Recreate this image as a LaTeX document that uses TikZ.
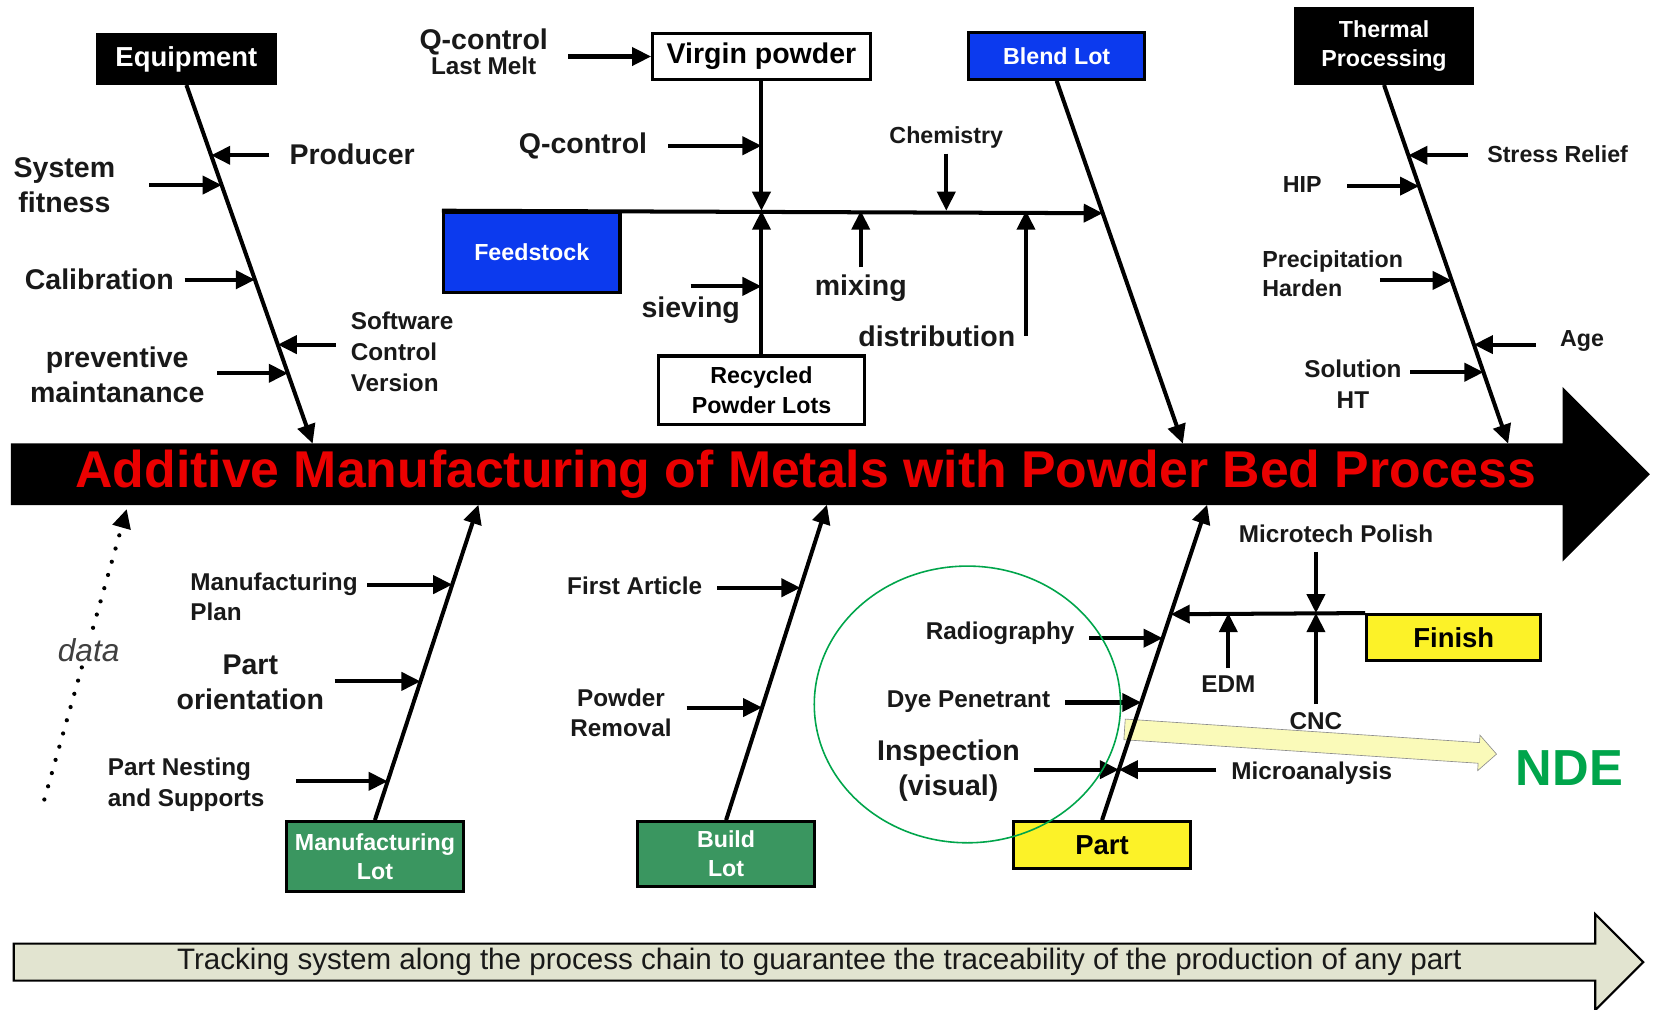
\documentclass[tikz,border=0pt]{standalone}
\usepackage{fontspec}
\setmainfont{Liberation Sans}
\usetikzlibrary{positioning,shapes.geometric,shapes.arrows,arrows.meta}
\definecolor{boxblue}{RGB}{12,58,238}
\definecolor{boxgreen}{RGB}{58,150,96}
\definecolor{boxyellow}{RGB}{252,242,40}
\definecolor{titlered}{RGB}{235,0,0}
\definecolor{ndegreen}{RGB}{0,165,75}
\definecolor{ndefill}{RGB}{250,250,185}
\definecolor{trackfill}{RGB}{226,228,208}
\newcommand{\fsz}[2]{\fontsize{#1}{#2}\selectfont}

\begin{document}
\begin{tikzpicture}[x=1pt, y=-1pt]
\tikzset{
    every node/.style = {inner sep=1pt, align=center, text=black!90},
    every path/.style = {>={Triangle[length=18pt,width=17pt]}},
    cause/.style = {line width=3.8pt, ->},
    big/.style = {font=\fsz{27}{33}\bfseries},
    mid/.style = {font=\fsz{23}{29}\bfseries},
    box/.style = {draw=black, line width=3pt, inner sep=0pt, font=\fsz{22}{28}\bfseries},
    blackbox/.style = {box, fill=black, text=white},
    bluebox/.style = {box, fill=boxblue, text=white},
    greenbox/.style = {box, fill=boxgreen, text=white},
    yellowbox/.style = {box, fill=boxyellow, text=black, font=\fsz{26}{30}\bfseries},
    whitebox/.style = {box, fill=white, text=black}
}
\path[use as bounding box, fill=white] (0,0) rectangle (1568,956);

% -------------------------------------------------------
\node[single arrow, draw=black!45, line width=0.6pt, fill=ndefill, minimum height=353pt,
      single arrow head extend=7pt, single arrow tip angle=90, inner sep=0pt,
      rotate=-3.8] (ndearrow) at (1236,702) {\rule{0pt}{19pt}};

\node[single arrow, fill=black, minimum height=1552pt, single arrow head extend=53.5pt,
      single arrow tip angle=90, inner sep=0pt, anchor=tail] (spine) at (10,449) {\rule{0pt}{58pt}};
\node[font=\fsz{49}{50}\bfseries, text=titlered] (title) at (763,449)
    {Additive Manufacturing of Metals with Powder Bed Process};

\coordinate (eqtip) at (296,420);
\coordinate (bltip) at (1120,420);
\coordinate (thtip) at (1428,420);
\coordinate (mltip) at (453,478);
\coordinate (bdtip) at (783,478);
\coordinate (pttip) at (1143,478);

% -------------------------------------------------------
\node[blackbox, minimum width=169pt, minimum height=46pt, font=\fsz{26}{30}\bfseries] (equip) at (176.5,56) {Equipment};
\node[whitebox, minimum width=206pt, minimum height=43pt, font=\fsz{27}{30}\bfseries] (virgin) at (721,53.5) {Virgin powder};
\node[bluebox, minimum width=167pt, minimum height=44pt] (blend) at (1000.5,53) {Blend Lot};
\node[blackbox, minimum width=167pt, minimum height=71pt] (thermal) at (1310.5,43.5) {Thermal\\Processing};
\node[bluebox, minimum width=167pt, minimum height=76pt] (feed) at (503.5,239) {Feedstock};
\node[whitebox, minimum width=195pt, minimum height=65pt] (recyc) at (721,369.5) {Recycled\\Powder Lots};
\node[greenbox, minimum width=168pt, minimum height=66pt] (mlot) at (355,811) {Manufacturing\\Lot};
\node[greenbox, minimum width=167pt, minimum height=61pt] (blot) at (687.5,808.5) {Build\\Lot};
\node[yellowbox, minimum width=167pt, minimum height=44pt] (part) at (1043.5,800) {Part};
\node[yellowbox, minimum width=165pt, minimum height=43pt] (finish) at (1376.5,603.5) {Finish};

% -------------------------------------------------------
\path (equip.south) -- (eqtip) coordinate[pos=.196] (eq1) coordinate[pos=.279] (eq2)
    coordinate[pos=.543] (eq3) coordinate[pos=.724] (eq4) coordinate[pos=.804] (eq5);
\path[cause] (equip.south) edge (eqtip);

\node[big, anchor=west] (prod) at (273,146) {Producer};
\node[big] (sysfit) at (61,175) {System\\fitness};
\node[big] (calib) at (94,264) {Calibration};
\node[mid, anchor=west, align=left] (softw) at (331,333) {Software\\Control\\Version};
\node[big] (prevent) at (111,355) {preventive\\maintanance};

\path[cause] ([xshift=-18pt]prod.west |- eq1) edge (eq1);
\path[cause] ([xshift=31pt]sysfit.east |- eq2) edge (eq2);
\path[cause] ([xshift=9pt]calib.east |- eq3) edge (eq3);
\path[cause] ([xshift=-13pt]softw.west |- eq4) edge (eq4);
\path[cause] ([xshift=11pt]prevent.east |- eq5) edge (eq5);

% -------------------------------------------------------
\coordinate (jn) at (virgin.south |- feed.north);
\path (blend.south) -- (bltip) coordinate[pos=.365] (bl1);
\path[cause] (blend.south) edge (bltip);
\path[cause] (feed.north west) edge (bl1);
\path[cause] (virgin.south) edge (jn);
\path[cause] (recyc.north) edge (jn);

\node[font=\fsz{23}{24}\bfseries] (qclm) at (458,49) {{\fsz{27}{24}Q-control}\\Last Melt};
\node[big] (qc) at (552,138) {Q-control};
\node[font=\fsz{22}{26}\bfseries] (chem) at (896,130) {Chemistry};
\node[big] (siev) at (654,294) {sieving};
\node[big] (mix) at (815,273) {mixing};
\node[big] (dist) at (887,318) {distribution};

\path[cause] ([xshift=18pt]qclm.east |- virgin.west) edge (virgin.west);
\path[cause] ([xshift=19pt]qc.east) edge (qc.east -| jn);
\path[cause] ([yshift=-4pt]chem.south) edge (chem.south |- jn);
\path[cause] ([yshift=9pt]siev.north) edge ([yshift=9pt]siev.north -| jn);
\path[cause] ([yshift=6pt]mix.north) edge (mix.north |- jn);
\path[cause] ([xshift=9pt]dist.east) edge ([xshift=9pt]dist.east |- jn);

% -------------------------------------------------------
\path (thermal.south) -- (thtip) coordinate[pos=.196] (th1) coordinate[pos=.282] (th2)
    coordinate[pos=.545] (th3) coordinate[pos=.724] (th4) coordinate[pos=.801] (th5);
\path[cause] (thermal.south) edge (thtip);

\node[font=\fsz{22}{28}\bfseries, anchor=west] (stress) at (1407,146) {Stress Relief};
\node[font=\fsz{22}{28}\bfseries] (hip) at (1233,175) {HIP};
\node[font=\fsz{22}{28}\bfseries, anchor=west, align=left] (precip) at (1194,259) {Precipitation\\Harden};
\node[font=\fsz{22}{28}\bfseries] (age) at (1498,323) {Age};
\node[font=\fsz{23}{29}\bfseries] (sol) at (1281,364) {Solution\\HT};

\path[cause] ([xshift=-17pt]stress.west |- th1) edge (th1);
\path[cause] ([xshift=23pt]hip.east |- th2) edge (th2);
\path[cause] ([xshift=-23pt]precip.east |- th3) edge (th3);
\path[cause] ([xshift=-22pt]age.west |- th4) edge (th4);
\path[cause] ([xshift=7pt]sol.east |- th5) edge (th5);

% -------------------------------------------------------
\coordinate (dstart) at (42,757);
\coordinate (dtip) at (120,482);
\path[->, line width=4pt, dash pattern=on 0pt off 13pt, line cap=round] (dstart) edge (dtip);
\node[font=\fsz{30}{32}\itshape, text=black!75, fill=white, inner sep=3pt] (data) at (84,616) {data};

\path (mlot.north) -- (mltip) coordinate[pos=.747] (ml1) coordinate[pos=.44] (ml2) coordinate[pos=.123] (ml3);
\path[cause] (mlot.north) edge (mltip);

\node[mid, anchor=west, align=left] (mplan) at (179,565) {Manufacturing\\Plan};
\node[big] (porient) at (237,646) {Part\\orientation};
\node[mid, anchor=west, align=left] (nest) at (101,743) {Part Nesting\\and Supports};

\path[cause] ([xshift=8pt]mplan.east |- ml1) edge (ml1);
\path[cause] ([xshift=9pt]porient.east |- ml2) edge (ml2);
\path[cause] ([xshift=29pt]nest.east |- ml3) edge (ml3);

% -------------------------------------------------------
\path (blot.north) -- (bdtip) coordinate[pos=.737] (bd1) coordinate[pos=.357] (bd2);
\path[cause] (blot.north) edge (bdtip);

\node[mid] (first) at (601,555) {First Article};
\node[mid] (powder) at (588,675) {Powder\\Removal};

\path[cause] ([xshift=13pt]first.east |- bd1) edge (bd1);
\path[cause] ([xshift=13pt]powder.east |- bd2) edge (bd2);

% -------------------------------------------------------
\path (part.north) -- (pttip) coordinate[pos=.653] (pt1) coordinate[pos=.577] (pt2)
    coordinate[pos=.373] (pt3) coordinate[pos=.16] (pt4);
\path[cause] (part.north) edge (pttip);
\path[cause] (finish.north west) edge (pt1);

\node[mid] (radio) at (947,600) {Radiography};
\node[mid] (dye) at (917,664) {Dye Penetrant};
\node[big] (insp) at (898,730) {Inspection\\(visual)};
\node[mid] (micro) at (1242,732) {Microanalysis};
\node[mid] (polish) at (1265,505) {Microtech Polish};
\node[mid] (edm) at (1163,648) {EDM};
\node[mid] (cnc) at (1246,683) {CNC};

\path[cause] ([xshift=13pt]radio.east |- pt2) edge (pt2);
\path[cause] ([xshift=13pt]dye.east |- pt3) edge (pt3);
\path[cause] ([xshift=12pt]insp.east |- pt4) edge (pt4);
\path[cause] ([xshift=-13pt]micro.west |- pt4) edge (pt4);

\coordinate (fj) at (cnc.north |- finish.north);
\path[cause] ([yshift=-8pt]polish.south -| fj) edge (fj);
\path[cause] ([yshift=6pt]edm.north) edge (edm.north |- finish.north);
\path[cause] ([yshift=7pt]cnc.north) edge (fj);

% -------------------------------------------------------
\node[ellipse, draw=ndegreen, line width=1.5pt, minimum width=290pt, minimum height=262pt,
      inner sep=0pt] (ndezone) at (916,667) {};
\node[font=\fsz{48}{50}\bfseries, text=ndegreen] (nde) at (1486,727) {NDE};

\node[single arrow, draw=black, line width=2pt, fill=trackfill, minimum height=1543pt,
      single arrow head extend=28pt, single arrow tip angle=90, inner xsep=0pt,
      inner ysep=3.5pt, text height=20pt, text depth=6pt, font=\fsz{28}{29},
      anchor=tail] (track) at (12,911)
    {Tracking system along the process chain to guarantee the traceability of the production of any part};
\end{tikzpicture}
\end{document}
